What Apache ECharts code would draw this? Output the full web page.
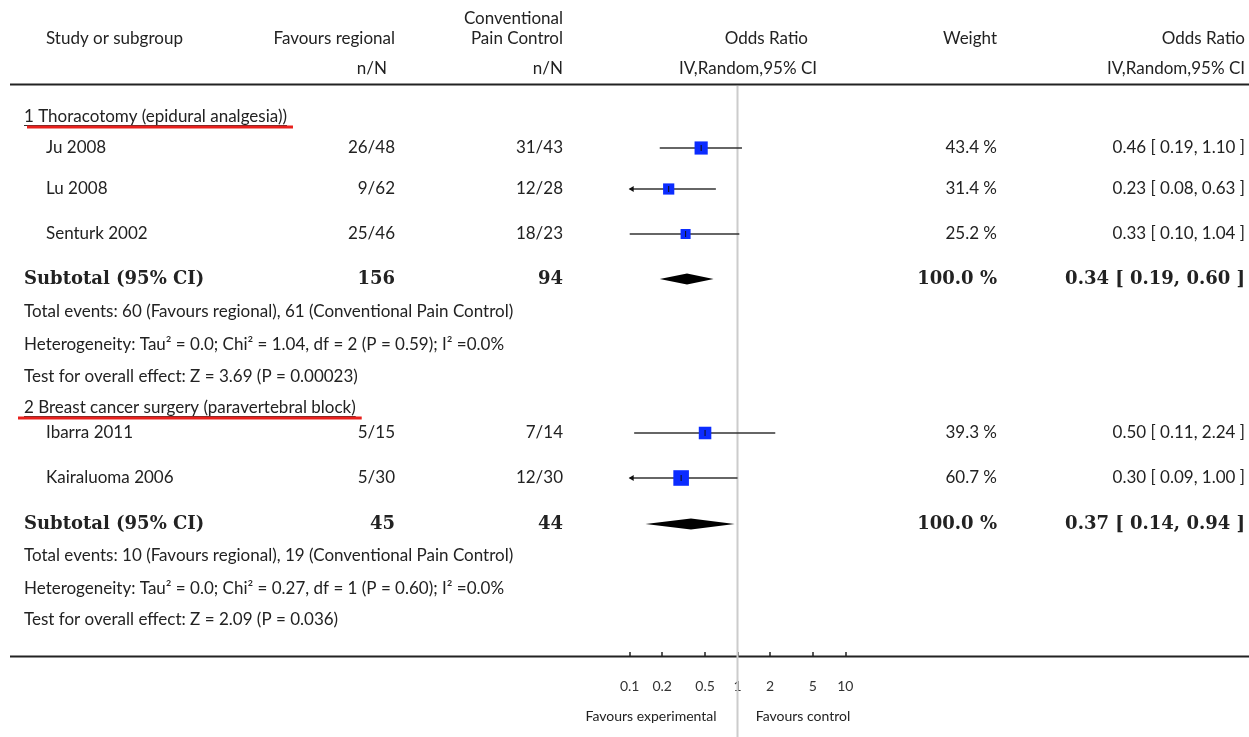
<!DOCTYPE html>
<html>
<head>
<meta charset="utf-8">
<script src="https://cdn.jsdelivr.net/npm/echarts@6/dist/echarts.min.js"></script>
<style>
  html, body { margin: 0; padding: 0; background: #fff; }
  #myChart { width: 1249px; height: 737px; }
</style>
</head>
<body>
<div id="myChart"></div>
<script>
  // data
  let groupNames = ['1 Thoracotomy (epidural analgesia))', '2 Breast cancer surgery (paravertebral block)'];
  let studies = ['Ju 2008', 'Lu 2008', 'Senturk 2002', 'Ibarra 2011', 'Kairaluoma 2006'];
  let eventsReg = [26, 9, 25, 5, 5];
  let totalReg = [48, 62, 46, 15, 30];
  let eventsCtl = [31, 12, 18, 7, 12];
  let totalCtl = [43, 28, 23, 14, 30];
  let orEst = [0.46, 0.23, 0.33, 0.50, 0.30];
  let orLow = [0.19, 0.08, 0.10, 0.11, 0.09];
  let orHigh = [1.10, 0.63, 1.04, 2.24, 1.00];
  let weights = [43.4, 31.4, 25.2, 39.3, 60.7];

  let subReg = [156, 45];
  let subCtl = [94, 44];
  let subEst = [0.34, 0.37];
  let subLow = [0.19, 0.14];
  let subHigh = [0.60, 0.94];
  let subWeight = [100.0, 100.0];
  let totEvReg = [60, 10];
  let totEvCtl = [61, 19];
  let hetTau = ['0.0', '0.0'];
  let hetChi = ['1.04', '0.27'];
  let hetDf = [2, 1];
  let hetP = ['0.59', '0.60'];
  let hetI2 = ['0.0', '0.0'];
  let zVal = ['3.69', '2.09'];
  let zP = ['0.00023', '0.036'];

  let tickValues = [0.1, 0.2, 0.5, 1, 2, 5, 10];
  let tickLabels = ['0.1', '0.2', '0.5', '1', '2', '5', '10'];

  // layout (pixel rows of the table)
  let groupRowY = [117, 408];
  let studyRowY = [148, 189, 234, 433, 478];
  let subRowY = [279, 524];
  let infoRowY = [[312, 345, 377], [556, 589, 620]];

  let sans = 'Lato, "Open Sans", sans-serif';
  let serif = '"DejaVu Serif", "Liberation Serif", serif';
  let F = '17px ' + sans;
  let FB = 'bold 18px ' + serif;
  let ink = '#222';

  let plotLeft = 629.7, plotWidth = 215.6;

  let measure = document.createElement('canvas').getContext('2d');
  function textWidth(t, font) { measure.font = font; return measure.measureText(t).width; }

  let graphics = [];
  function txt(x, y, text, align, font) {
    graphics.push({
      type: 'text', silent: true,
      style: { text: text, x: x, y: y, font: font || F, fill: ink, textAlign: align || 'left', textVerticalAlign: 'middle' }
    });
  }
  function hline(x1, x2, y, w, color) {
    graphics.push({ type: 'line', silent: true, shape: { x1: x1, y1: y, x2: x2, y2: y }, style: { stroke: color, lineWidth: w } });
  }

  // header
  txt(46, 39, 'Study or subgroup');
  txt(395, 39, 'Favours regional', 'right');
  txt(563, 19, 'Conventional', 'right');
  txt(563, 39, 'Pain Control', 'right');
  txt(808, 39, 'Odds Ratio', 'right');
  txt(997, 39, 'Weight', 'right');
  txt(1245, 39, 'Odds Ratio', 'right');
  txt(387, 69, 'n/N', 'right');
  txt(563, 69, 'n/N', 'right');
  txt(817, 69, 'IV,Random,95% CI', 'right');
  txt(1245, 69, 'IV,Random,95% CI', 'right');
  hline(10, 1249, 84.5, 2, '#222');
  hline(10, 1249, 656.5, 2, '#222');

  let fmt2 = v => v.toFixed(2);
  groupNames.forEach((g, gi) => {
    txt(24, groupRowY[gi], g);
    let w = textWidth(g, F);
    hline(24, 24 + w, groupRowY[gi] + 8.5, 1, '#333');
    hline(gi === 0 ? 27 : 18, 24 + w + 6, groupRowY[gi] + 10, 3, '#e8201c');

    txt(24, subRowY[gi], 'Subtotal (95% CI)', 'left', FB);
    txt(395, subRowY[gi], String(subReg[gi]), 'right', FB);
    txt(563, subRowY[gi], String(subCtl[gi]), 'right', FB);
    txt(997, subRowY[gi], subWeight[gi].toFixed(1) + ' %', 'right', FB);
    txt(1245, subRowY[gi], fmt2(subEst[gi]) + ' [ ' + fmt2(subLow[gi]) + ', ' + fmt2(subHigh[gi]) + ' ]', 'right', FB);

    txt(24, infoRowY[gi][0], 'Total events: ' + totEvReg[gi] + ' (Favours regional), ' + totEvCtl[gi] + ' (Conventional Pain Control)');
    txt(24, infoRowY[gi][1], 'Heterogeneity: Tau\u00b2 = ' + hetTau[gi] + '; Chi\u00b2 = ' + hetChi[gi] + ', df = ' + hetDf[gi] +
      ' (P = ' + hetP[gi] + '); I\u00b2 =' + hetI2[gi] + '%');
    txt(24, infoRowY[gi][2], 'Test for overall effect: Z = ' + zVal[gi] + ' (P = ' + zP[gi] + ')');
  });

  studies.forEach((s, i) => {
    let y = studyRowY[i];
    txt(46, y, s);
    txt(395, y, eventsReg[i] + '/' + totalReg[i], 'right');
    txt(563, y, eventsCtl[i] + '/' + totalCtl[i], 'right');
    txt(997, y, weights[i].toFixed(1) + ' %', 'right');
    txt(1245, y, fmt2(orEst[i]) + ' [ ' + fmt2(orLow[i]) + ', ' + fmt2(orHigh[i]) + ' ]', 'right');
  });

  txt(651, 716, 'Favours experimental', 'center', '14px ' + sans);
  txt(803, 716, 'Favours control', 'center', '14px ' + sans);

  let xMin = 0.1, xMax = 10;

  let myChart = echarts.init(document.getElementById('myChart'));
  let options = {
    animation: false,
    grid: [
      { left: plotLeft, width: plotWidth, top: 0, height: 737 },
      { left: plotLeft, width: plotWidth, top: 85, height: 572 }
    ],
    xAxis: [
      { type: 'log', logBase: 10, min: xMin, max: xMax, gridIndex: 0, show: false },
      {
        type: 'log', logBase: 10, min: xMin, max: xMax, gridIndex: 1,
        axisLine: { show: false },
        splitLine: { show: false },
        minorTick: { show: false },
        axisTick: { show: true, inside: true, length: 5, customValues: tickValues, lineStyle: { color: '#222', width: 1.5 } },
        axisLabel: {
          customValues: tickValues,
          margin: 22,
          fontFamily: sans, fontSize: 14, color: '#333',
          formatter: v => tickLabels[tickValues.findIndex(t => Math.abs(t - v) < 1e-6)] || ''
        }
      }
    ],
    yAxis: [
      { type: 'value', min: 0, max: 737, inverse: true, gridIndex: 0, show: false },
      { type: 'value', min: 0, max: 1, gridIndex: 1, show: false }
    ],
    graphic: graphics,
    series: [
      {
        // line of no effect
        type: 'custom', xAxisIndex: 0, yAxisIndex: 0, z: 1,
        data: [[1, 86, 737]],
        renderItem: function (params, api) {
          let a = api.coord([api.value(0), api.value(1)]);
          let b = api.coord([api.value(0), api.value(2)]);
          return { type: 'line', shape: { x1: a[0], y1: a[1], x2: b[0], y2: b[1] }, style: { stroke: '#cccccc', lineWidth: 2 } };
        }
      },
      {
        // study estimates with 95% CI
        type: 'custom', xAxisIndex: 0, yAxisIndex: 0, z: 3,
        encode: { x: [0, 1, 2], y: 3 },
        data: studies.map((s, i) => [orEst[i], orLow[i], orHigh[i], studyRowY[i], weights[i]]),
        renderItem: function (params, api) {
          let est = api.coord([api.value(0), api.value(3)]);
          let y = est[1];
          let lo = api.value(1), hi = api.value(2);
          let x0 = api.coord([Math.max(lo, xMin), 0])[0];
          let x1 = api.coord([Math.min(hi, xMax), 0])[0];
          let s = 2 * Math.sqrt(api.value(4));
          let kids = [
            { type: 'line', shape: { x1: x0, y1: y, x2: x1, y2: y }, style: { stroke: '#333', lineWidth: 1.5 } },
            { type: 'rect', shape: { x: est[0] - s / 2, y: y - s / 2, width: s, height: s }, style: { fill: '#0b2cff' } },
            { type: 'line', shape: { x1: est[0], y1: y - 3, x2: est[0], y2: y + 3 }, style: { stroke: '#111', lineWidth: 1 } }
          ];
          if (lo < xMin) {
            kids.push({ type: 'polygon', shape: { points: [[x0 - 1, y], [x0 + 4, y - 3], [x0 + 4, y + 3]] }, style: { fill: '#111' } });
          }
          return { type: 'group', children: kids };
        }
      },
      {
        // subtotal diamonds
        type: 'custom', xAxisIndex: 0, yAxisIndex: 0, z: 3,
        encode: { x: [0, 1, 2], y: 3 },
        data: subEst.map((v, i) => [v, subLow[i], subHigh[i], subRowY[i]]),
        renderItem: function (params, api) {
          let c = api.coord([api.value(0), api.value(3)]);
          let l = api.coord([api.value(1), api.value(3)]);
          let r = api.coord([api.value(2), api.value(3)]);
          let h = 5.5;
          return {
            type: 'polygon',
            shape: { points: [[l[0], c[1]], [c[0], c[1] - h], [r[0], c[1]], [c[0], c[1] + h]] },
            style: { fill: '#000' }
          };
        }
      }
    ]
  };
  myChart.setOption(options);
</script>
</body>
</html>
